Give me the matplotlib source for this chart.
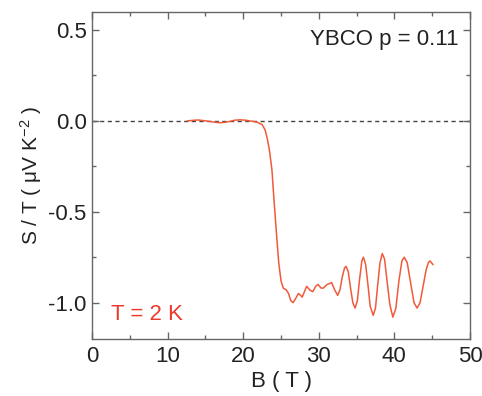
import matplotlib
matplotlib.use("Agg")
import matplotlib.pyplot as plt
from matplotlib.ticker import MultipleLocator

plt.rcParams['font.family'] = ['Liberation Sans', 'DejaVu Sans']
plt.rcParams['mathtext.fontset'] = 'custom'
plt.rcParams['mathtext.rm'] = 'Liberation Sans'
plt.rcParams['mathtext.it'] = 'Liberation Sans'
plt.rcParams['mathtext.default'] = 'regular'

B = [12.6, 13.3, 14.0, 14.7, 15.4, 16.1, 16.8, 17.5, 18.2, 18.9, 19.6, 20.3, 20.9,
     21.5, 22.0, 22.5, 22.9, 23.2, 23.5, 23.8, 24.1, 24.4, 24.7, 25.0, 25.3,
     25.7, 26.0, 26.3, 26.6, 26.9, 27.3, 27.6, 27.8, 28.1, 28.4, 28.8, 29.2,
     29.6, 29.9, 30.3, 30.6, 31.1, 31.7, 32.1, 32.5,
     32.8, 33.1, 33.4, 33.6, 33.9, 34.2, 34.5, 34.8, 35.1, 35.4, 35.7, 35.9,
     36.2, 36.5, 36.8, 37.2, 37.5, 37.8, 38.1, 38.4, 38.7, 39.0, 39.4, 39.8,
     40.2, 40.6, 41.0, 41.3, 41.7, 42.1, 42.6, 43.0, 43.4, 43.8, 44.2, 44.5,
     44.7, 45.1]
ST = [0.00, 0.003, 0.005, 0.002, -0.002, -0.006, -0.010, -0.008, -0.003, 0.004, 0.006, 0.004, 0.000,
      -0.004, -0.010, -0.020, -0.050, -0.100, -0.170, -0.270, -0.450, -0.620, -0.780, -0.880, -0.920,
      -0.930, -0.950, -0.990, -1.000, -0.980, -0.950, -0.960, -0.970, -0.940, -0.910, -0.930, -0.940,
      -0.910, -0.900, -0.920, -0.920, -0.900, -0.890, -0.930, -0.960,
      -0.930, -0.860, -0.810, -0.800, -0.830, -0.920, -1.000, -1.030, -0.990, -0.870, -0.770, -0.750,
      -0.790, -0.900, -1.020, -1.070, -1.030, -0.900, -0.780, -0.730, -0.760, -0.870, -1.010, -1.080,
      -1.030, -0.880, -0.770, -0.750, -0.780, -0.880, -1.000, -1.030, -1.000, -0.910, -0.820, -0.780,
      -0.770, -0.790]

fig = plt.figure(figsize=(4.82, 3.96), dpi=100)
ax = fig.add_axes([0.191, 0.144, 0.784, 0.826])

ax.axhline(0, color='#444444', lw=1.0, ls=(0, (3, 2.5)), zorder=1)
ax.plot(B, ST, color='#f05a3a', lw=1.1, zorder=2)

ax.set_xlim(0, 50)
ax.set_ylim(-1.2, 0.6)
ax.xaxis.set_major_locator(MultipleLocator(10))
ax.xaxis.set_minor_locator(MultipleLocator(5))
ax.yaxis.set_major_locator(MultipleLocator(0.5))
ax.yaxis.set_minor_locator(MultipleLocator(0.25))
ax.tick_params(which='both', direction='in', top=True, right=True, colors='#666666',
               labelcolor='#222222', labelsize=16)
ax.tick_params(which='major', length=5, width=1)
ax.tick_params(which='minor', length=3, width=1)
ax.tick_params(axis='x', pad=5)
ax.tick_params(axis='y', pad=4)
for s in ax.spines.values():
    s.set_color('#666666')
    s.set_linewidth(1.0)
ax.set_yticks([-1.0, -0.5, 0.0, 0.5])
ax.set_yticklabels(['-1.0', '-0.5', '0.0', '0.5'])

ax.set_xlabel('B ( T )', fontsize=16, color='#222222', labelpad=3)
ax.set_ylabel(r'S / T ( $\mu$V K$^{-2}$ )', fontsize=15, color='#222222', labelpad=3)

ax.text(0.97, 0.915, 'YBCO p = 0.11', transform=ax.transAxes, ha='right', va='center',
        fontsize=16, color='#222222')
ax.text(2.5, -1.065, 'T = 2 K', ha='left', va='center', fontsize=16, color='#ec3a2e')

fig.savefig('out.png', dpi=100)
